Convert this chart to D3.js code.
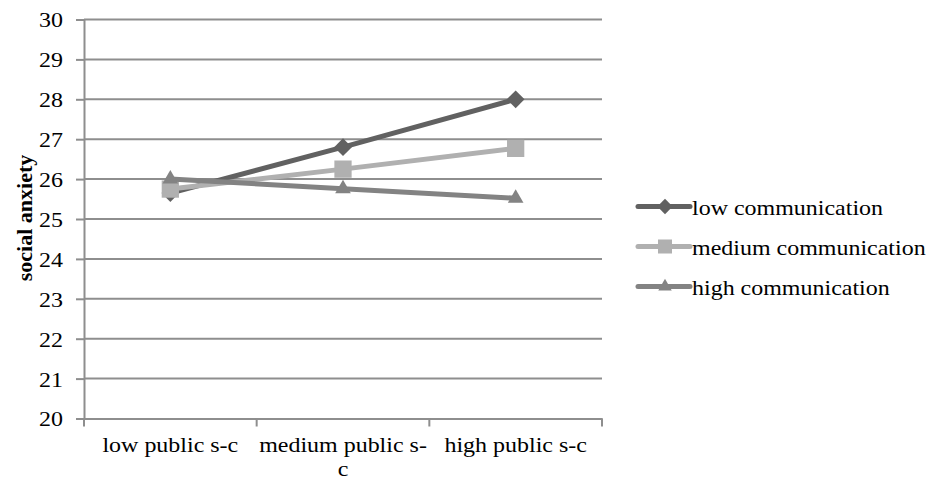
<!DOCTYPE html>
<html>
<head>
<meta charset="utf-8">
<script src="https://cdn.jsdelivr.net/npm/d3@7"></script>
<style>
  html, body { margin: 0; padding: 0; background: #fff; }
  svg { display: block; }
  svg text { font-family: "Liberation Serif", "DejaVu Serif", "Times New Roman", serif; }
</style>
</head>
<body>
<svg id="chart" width="934" height="481"></svg>
<script>
// Categories along the x axis (each label split into its wrapped lines)
const categories = ["low public s-c", "medium public s-c", "high public s-c"];
const categoryLines = [["low public s-c"], ["medium public s-", "c"], ["high public s-c"]];

// Series names and values
const seriesNames = ["low communication", "medium communication", "high communication"];
const lowCommunication = [25.65, 26.8, 28.0];
const mediumCommunication = [25.75, 26.25, 26.77];
const highCommunication = [26.0, 25.76, 25.52];

const yTicks = [20, 21, 22, 23, 24, 25, 26, 27, 28, 29, 30];

const series = [
  { name: seriesNames[0], values: lowCommunication, color: "#616161", symbol: d3.symbolDiamond2, size: 200, legendSize: 150 },
  { name: seriesNames[1], values: mediumCommunication, color: "#b0b0b0", symbol: d3.symbolSquare2, size: 380, legendSize: 250 },
  { name: seriesNames[2], values: highCommunication, color: "#838383", symbol: d3.symbolTriangle2, size: 175, legendSize: 130 }
];

const FONT = 22;
const WIDEN = 1.09;       // text is set slightly wide
const GRID = "#8e8e8e";
const svg = d3.select("#chart");
const plot = { left: 84, right: 602, top: 19.5, bottom: 418.5 };

const x = d3.scaleBand().domain(categories).range([plot.left, plot.right]);
const y = d3.scaleLinear().domain([20, 30]).range([plot.bottom, plot.top]);

const wide = (px, py) => `translate(${px},${py}) scale(${WIDEN},1)`;

// Horizontal gridlines
svg.append("g")
  .selectAll("line")
  .data(yTicks.slice(1))
  .join("line")
  .attr("x1", plot.left).attr("x2", plot.right)
  .attr("y1", d => y(d)).attr("y2", d => y(d))
  .attr("stroke", GRID).attr("stroke-width", 2);

// Y axis
const yAxis = svg.append("g")
  .attr("transform", `translate(${plot.left},0)`)
  .call(d3.axisLeft(y).tickValues(yTicks).tickSize(8).tickFormat(d3.format("d")));
yAxis.attr("font-family", null).attr("font-size", null);
yAxis.select(".domain").attr("stroke", GRID).attr("stroke-width", 2);
yAxis.selectAll(".tick line").attr("stroke", GRID).attr("stroke-width", 2);
yAxis.selectAll(".tick text")
  .attr("x", null).attr("dy", "0.34em")
  .attr("transform", wide(-21, 0))
  .attr("font-size", FONT).attr("fill", "#000");

// X axis line
const xAxis = svg.append("g")
  .attr("transform", `translate(0,${plot.bottom})`)
  .call(d3.axisBottom(x).tickSize(0).tickFormat(""));
xAxis.select(".domain").attr("stroke", GRID).attr("stroke-width", 2);

// Tick marks at category boundaries
const boundaries = [plot.left, ...categories.map(c => x(c) + x.bandwidth())];
svg.append("g")
  .selectAll("line")
  .data(boundaries)
  .join("line")
  .attr("x1", d => d).attr("x2", d => d)
  .attr("y1", plot.bottom).attr("y2", plot.bottom + 8)
  .attr("stroke", GRID).attr("stroke-width", 2);

// Category labels
const xLabels = svg.append("g")
  .selectAll("text")
  .data(categories)
  .join("text")
  .attr("transform", d => wide(x(d) + x.bandwidth() / 2, 452))
  .attr("text-anchor", "middle")
  .attr("font-size", FONT)
  .attr("fill", "#000");
xLabels.each(function(d, i) {
  d3.select(this).selectAll("tspan")
    .data(categoryLines[i])
    .join("tspan")
    .attr("x", 0)
    .attr("dy", (t, j) => j === 0 ? 0 : 24)
    .text(t => t);
});

// Y axis title
svg.append("text")
  .attr("transform", `translate(32,218) rotate(-90)`)
  .attr("text-anchor", "middle")
  .attr("font-size", FONT)
  .attr("font-weight", "bold")
  .attr("fill", "#000")
  .text("social anxiety");

const cx = (i) => x(categories[i]) + x.bandwidth() / 2;
const line = d3.line().x((d, i) => cx(i)).y(d => y(d));

// Each series: its line, then its markers on top
series.forEach(s => {
  const g = svg.append("g");
  g.append("path")
    .attr("d", line(s.values))
    .attr("fill", "none")
    .attr("stroke", s.color)
    .attr("stroke-width", 5)
    .attr("stroke-linejoin", "round");
  g.selectAll(".marker")
    .data(s.values)
    .join("path")
    .attr("class", "marker")
    .attr("transform", (d, i) => `translate(${cx(i)},${y(d)})`)
    .attr("d", d3.symbol().type(s.symbol).size(s.size))
    .attr("fill", s.color);
});

// Legend
const legend = svg.append("g");
const legendRows = [206.5, 246.5, 286.5];
series.forEach((s, i) => {
  const g = legend.append("g").attr("transform", `translate(638,${legendRows[i]})`);
  g.append("line").attr("x1", 0).attr("x2", 52).attr("y1", 0).attr("y2", 0)
    .attr("stroke", s.color).attr("stroke-width", 5).attr("stroke-linecap", "round");
  g.append("path").attr("transform", "translate(27,0)")
    .attr("d", d3.symbol().type(s.symbol).size(s.legendSize))
    .attr("fill", s.color);
  g.append("text").attr("transform", wide(54, 8))
    .attr("font-size", FONT).attr("fill", "#000")
    .text(s.name);
});
</script>
</body>
</html>
